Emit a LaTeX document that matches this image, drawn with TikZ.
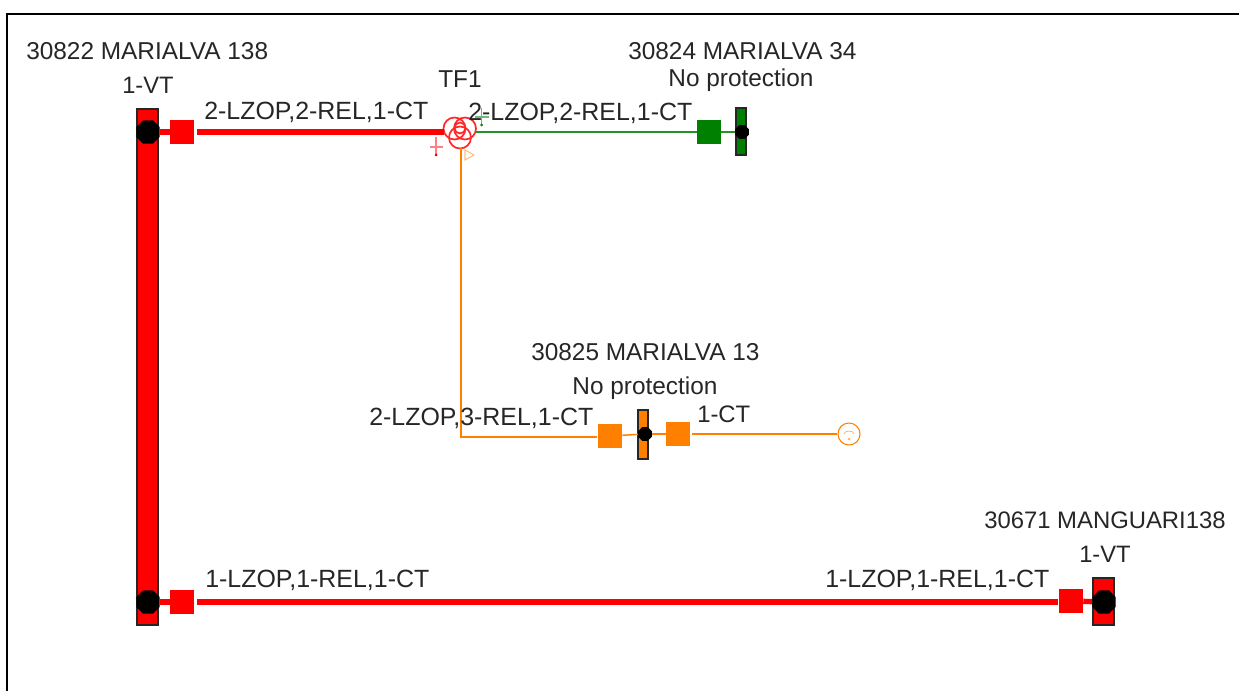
\documentclass[tikz,border=0pt]{standalone}
\usepackage{fontspec}
\usetikzlibrary{shapes.geometric}
\setmainfont{Liberation Sans}
\definecolor{dkgreen}{RGB}{0,128,0}
\definecolor{org}{RGB}{255,128,0}
\definecolor{xfr}{RGB}{255,40,40}
\tikzset{x=0.75pt,y=-0.75pt,
 lbl/.style={inner sep=0pt,font=\fontsize{#1pt}{20pt}\selectfont,text=black!85},
 lbl/.default=18.3,
 busbar/.style={draw=black!85,line width=1.5pt,inner sep=0pt,minimum width=#1*0.75pt},
 sq/.style={fill=#1,inner sep=0pt,minimum size=18pt},
 dotA/.style={regular polygon,regular polygon sides=8,fill=black,inner sep=0pt,minimum size=19pt},
 dotB/.style={regular polygon,regular polygon sides=8,fill=black,inner sep=0pt,minimum size=11pt},
 thick line/.style={red,line width=4pt},
 thin line/.style={line width=1.1pt},
 coil/.style={draw=xfr,circle,line width=1.3pt,inner sep=0pt,minimum size=#1*0.75pt}}
\begin{document}
\begin{tikzpicture}
\useasboundingbox (0,0) rectangle (1239,691);
\draw[black,line width=1.5pt] (6.5,691) -- (6.5,14) -- (1239,14);
% buses
\node[busbar=21,fill=red,minimum height=516*0.75pt] (b1) at (147,367) {};
\node[busbar=10,fill=dkgreen,minimum height=47*0.75pt] (b2) at (741,132) {};
\node[busbar=10,fill=org,minimum height=49*0.75pt] (b3) at (643,435) {};
\node[busbar=21,fill=red,minimum height=47*0.75pt] (b4) at (1103,601) {};
% connection points
\node[dotA] (d1) at (148,132) {};
\node[dotA] (d2) at (148,602) {};
\node[dotA] (d3) at (1104,602) {};
\node[dotB] (d4) at (742,132) {};
\node[dotB] (d5) at (645,434) {};
% breakers
\node[sq=red] (s1) at (182,132) {};
\node[sq=red] (s2) at (182,602) {};
\node[sq=red] (s3) at (1071,601) {};
\node[sq=dkgreen] (s4) at (709,132) {};
\node[sq=org] (s5) at (610,436) {};
\node[sq=org] (s6) at (678,434) {};
% transformer
\node[coil=22] (t1) at (454.5,128.5) {};
\node[coil=22] (t2) at (465,128.5) {};
\node[coil=22] (t3) at (460,137.5) {};
\node[coil=11] (t4) at (460,128) {};
% remote generator
\node[draw=org,circle,line width=0.8pt,fill=white,inner sep=0pt,minimum size=22*0.75pt] (g) at (849,434) {};
\fill[org!60] (849,439) circle (1.5);
\draw[org!70,line width=0.5pt] (844,434) arc (180:360:5 and 3);
% connectors
\draw[thick line] (d1) -- (s1);
\draw[thick line] (d2) -- (s2);
\coordinate (c2) at (197,602);
\coordinate (c2e) at (1058,602);
\draw[thick line] (c2) -- (c2e);
\draw[thick line] (s3) -- (d3);
\coordinate (c1) at (197,132);
\coordinate (c1e) at (444,132);
\draw[thick line] (c1) -- (c1e);
\coordinate (c3) at (476,132);
\coordinate (c3e) at (697,132);
\draw[dkgreen!85!white,thin line] (c3) -- (c3e);
\draw[dkgreen!85!white,thin line] (s4) -- (d4);
\coordinate (c4) at (461,148);
\coordinate (c4a) at (461,437);
\coordinate (c4e) at (597,437);
\draw[org,thin line] (c4) -- (c4a) -- (c4e);
\draw[org,thin line] (s5) -- (d5);
\draw[org,thin line] (d5) -- (s6);
\coordinate (c5) at (692,434);
\draw[org,thin line] (c5) -- (g);
% small grounding symbols
\draw[red!50,line width=0.9pt] (436,137) -- (436,154) (430,147) -- (443,147);
\fill[red!85!black] (436,155) circle (1.5);
\draw[dkgreen!55,line width=0.9pt] (481.5,108) -- (481.5,124) (475,117) -- (489,117);
\fill[dkgreen] (481.5,125) circle (1.5);
\draw[org!50,line width=0.8pt] (465,150) -- (465,160) -- (474,155) -- cycle;
% labels
\node[lbl,anchor=west] (n1) at (26,51.5) {30822 MARIALVA 138};
\node[lbl=17.8] (n2) at (148,85) {1-VT};
\node[lbl=18.7,anchor=west] (n3) at (204,112) {2-LZOP,2-REL,1-CT};
\node[lbl] (n4) at (460,79.5) {TF1};
\node[lbl,anchor=west] (n5) at (628,51.5) {30824 MARIALVA 34};
\node[lbl] (n6) at (741,80.5) {No protection};
\node[lbl=18.7,anchor=west] (n7) at (468,113.5) {2-LZOP,2-REL,1-CT};
\node[lbl,anchor=west] (n8) at (531,352) {30825 MARIALVA 13};
\node[lbl] (n9) at (645,388.5) {No protection};
\node[lbl=18.7,anchor=west] (n10) at (369,418.5) {2-LZOP,3-REL,1-CT};
\node[lbl=17.9,anchor=west] (n11) at (697,414) {1-CT};
\node[lbl=17.9,anchor=west] (n12) at (984,520) {30671 MANGUARI138};
\node[lbl=17.8] (n13) at (1105,554) {1-VT};
\node[lbl=18.7,anchor=west] (n14) at (205,580.5) {1-LZOP,1-REL,1-CT};
\node[lbl=18.7,anchor=west] (n15) at (825,580.5) {1-LZOP,1-REL,1-CT};
\end{tikzpicture}
\end{document}
